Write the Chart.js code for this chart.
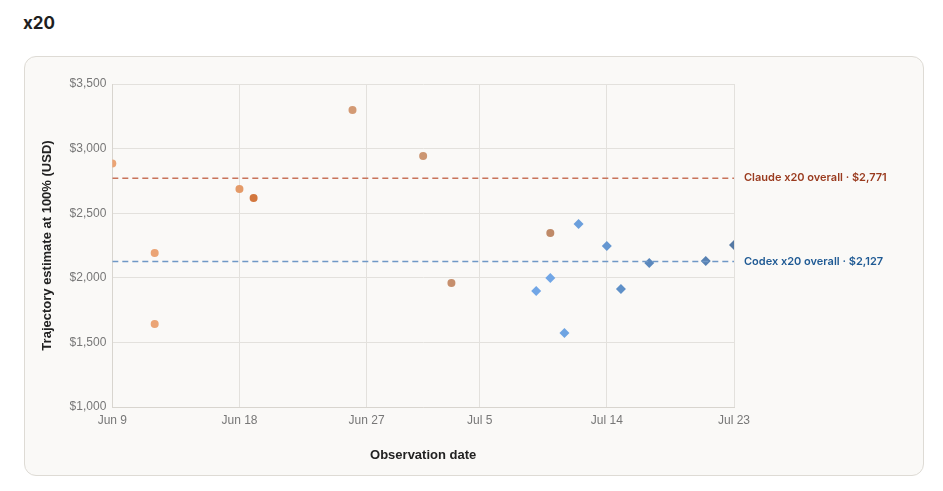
<!DOCTYPE html>
<html lang="en">
<head>
  <meta charset="UTF-8">
  <title>x20 trajectory estimates</title>
  <script src="https://cdn.jsdelivr.net/npm/chart.js@4.4.3/dist/chart.umd.min.js"></script>
  <style>
    body { margin: 0; background: #fff; font-family: Inter, 'Noto Sans', sans-serif; }
    h2 { position: absolute; left: 23px; top: 13px; margin: 0; font-size: 17px; font-weight: 700; color: #1f1f1f; }
    .card { position: absolute; left: 24px; top: 56px; width: 898px; height: 418px; background: #faf9f7; border: 1px solid #dedbd5; border-radius: 12px; }
    canvas { display: block; }
  </style>
</head>
<body>
  <h2>x20</h2>
  <div class="card"><canvas id="c" width="898" height="418"></canvas></div>
  <script>
    // days since Jun 9
    const tickDays = [0, 9, 18, 26, 35, 44];
    const tickLabels = ["Jun 9", "Jun 18", "Jun 27", "Jul 5", "Jul 14", "Jul 23"];

    const claudeDays = [0, 3, 3, 9, 10, 17, 22, 24, 31];
    const claudeValues = [2885, 2192, 1642, 2687, 2618, 3299, 2943, 1960, 2347];
    const claudeColors = ["#eba475", "#eba475", "#eba475", "#e49a68", "#d2773e", "#d39a74", "#cc9672", "#c68f6d", "#bf8a68"];

    const codexDays = [30, 31, 32, 33, 35, 36, 38, 42, 44];
    const codexValues = [1898, 1998, 1573, 2416, 2246, 1913, 2115, 2130, 2254];
    const codexColors = ["#71a6e6", "#71a6e6", "#6ea4e2", "#6b9fdc", "#6597d1", "#5f90c8", "#5a88bd", "#5781b2", "#5579a4"];

    const claudeOverall = 2771;
    const codexOverall = 2127;

    const pts = (xs, ys) => xs.map((x, i) => ({ x, y: ys[i] }));
    const span = v => [{ x: 0, y: v }, { x: 44, y: v }];

    const sideLabels = {
      id: "sideLabels",
      afterDatasetsDraw(chart) {
        const { ctx, chartArea, scales } = chart;
        ctx.save();
        ctx.font = "600 11px Inter, sans-serif";
        ctx.textBaseline = "middle";
        ctx.fillStyle = "#9a3b1f";
        ctx.fillText("Claude x20 overall · $2,771", chartArea.right + 10, scales.y.getPixelForValue(claudeOverall));
        ctx.fillStyle = "#1f5a94";
        ctx.fillText("Codex x20 overall · $2,127", chartArea.right + 10, scales.y.getPixelForValue(codexOverall));
        ctx.restore();
      }
    };

    new Chart(document.getElementById("c"), {
      type: "scatter",
      data: {
        datasets: [
          { type: "line", data: span(claudeOverall), borderColor: "#c8735a", borderWidth: 1.5, borderDash: [6, 4], pointRadius: 0 },
          { type: "line", data: span(codexOverall), borderColor: "#6f98c6", borderWidth: 1.5, borderDash: [6, 4], pointRadius: 0 },
          { data: pts(claudeDays, claudeValues), backgroundColor: claudeColors, borderWidth: 0, pointRadius: 4 },
          { data: pts(codexDays, codexValues), backgroundColor: codexColors, borderWidth: 0, pointStyle: "rectRot", pointRadius: 5 }
        ]
      },
      options: {
        responsive: false,
        animation: false,
        layout: { padding: { top: 27, right: 189, bottom: 8, left: 11 } },
        plugins: { legend: { display: false }, tooltip: { enabled: false } },
        scales: {
          x: {
            type: "linear", min: 0, max: 44,
            afterBuildTicks: s => { s.ticks = tickDays.map(v => ({ value: v })); },
            ticks: { callback: (v) => tickLabels[tickDays.indexOf(v)], color: "#777", font: { size: 12 }, padding: 6, maxRotation: 0 },
            grid: { color: "#e3e1dd", drawTicks: false },
            border: { color: "#d8d5cf" },
            title: { display: true, text: "Observation date", color: "#222", font: { size: 13, weight: "600" }, padding: { top: 14 } }
          },
          y: {
            min: 1000, max: 3500,
            ticks: { stepSize: 500, callback: v => "$" + v.toLocaleString("en-US"), color: "#777", font: { size: 12 }, padding: 6 },
            grid: { color: "#e3e1dd", drawTicks: false },
            border: { color: "#d8d5cf" },
            title: { display: true, text: "Trajectory estimate at 100% (USD)", color: "#222", font: { size: 13, weight: "600" }, padding: { bottom: 8 } }
          }
        }
      },
      plugins: [sideLabels]
    });
  </script>
</body>
</html>
